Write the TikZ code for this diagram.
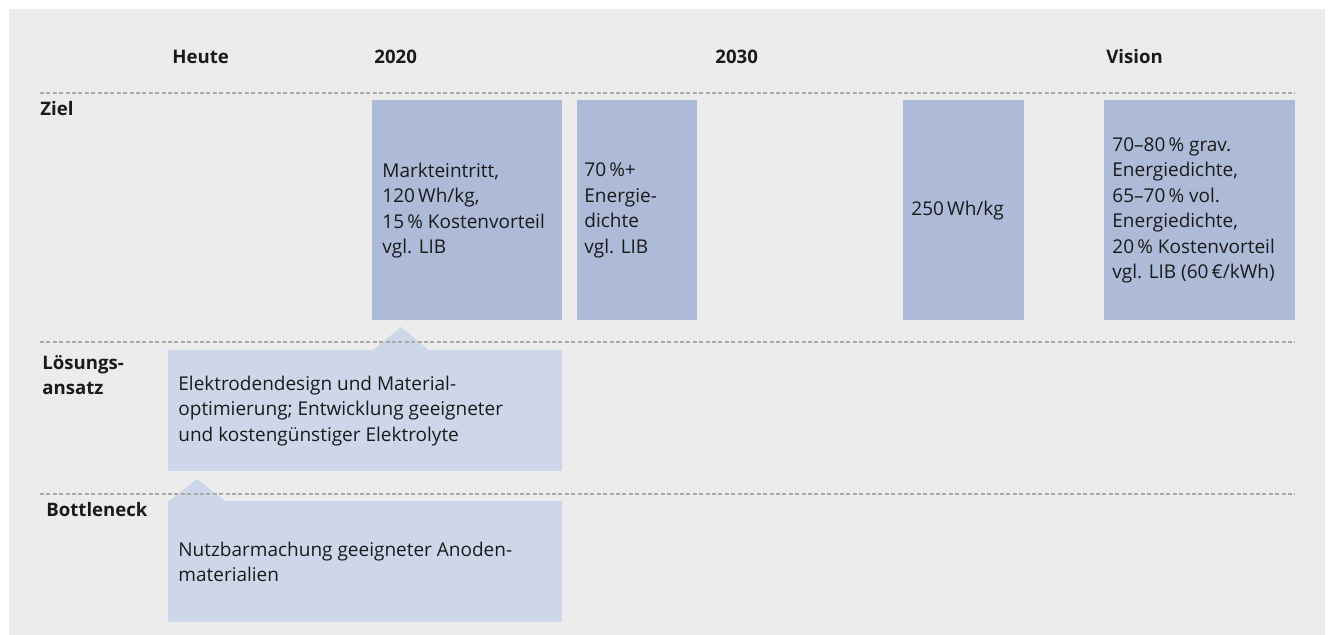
\documentclass[tikz,border=0pt]{standalone}
\usepackage{fontspec}
\setmainfont{Open Sans}
\usepackage{tikz}
\usetikzlibrary{positioning,calc}
\definecolor{bggray}{HTML}{ECECEC}
\definecolor{zielblue}{HTML}{ADBAD8}
\definecolor{paleblue}{HTML}{CED7EA}
\definecolor{rulegray}{HTML}{A9A9A9}
\definecolor{inkblack}{HTML}{1A1A1A}

\begin{document}
\begin{tikzpicture}[x=0.5pt,y=-0.5pt,
  every node/.style={inner sep=0pt,text=inkblack},
  bodytext/.style={font=\fontsize{9.5}{12.7}\selectfont,align=left},
  headtext/.style={font=\fontsize{9.3}{12.5}\selectfont\bfseries,align=left},
  zielbox/.style={fill=zielblue,anchor=north west,minimum height=110pt},
  hintbox/.style={fill=paleblue,anchor=north west,minimum width=197pt,minimum height=60.5pt},
  rowrule/.style={draw=rulegray,line width=0.75pt,dash pattern=on 2pt off 1.2pt}]
  % background
  \fill[bggray] (9,9) rectangle (1325,635);
  \useasboundingbox (0,0) rectangle (1329,635);
  % time axis
  \node[headtext,anchor=base west] (heute) at (172,64) {Heute};
  \node[headtext,anchor=base west] (y2020) at (374,64) {2020};
  \node[headtext,anchor=base west] (y2030) at (715,64) {2030};
  \node[headtext,anchor=base west] (vision) at (1106,64) {Vision};
  % row labels
  \node[headtext,anchor=base west] (ziel) at (40,116) {Ziel};
  \node[headtext,anchor=west] (loesung) at (42,375) {Lösungs-\\ansatz};
  \node[headtext,anchor=base west] (bottle) at (46,517) {Bottleneck};
  % goals
  \node[zielbox,minimum width=95pt] (zMarkt) at (372,100) {};
  \node[zielbox,minimum width=60pt] (zDichte) at (577,100) {};
  \node[zielbox,minimum width=60.5pt] (zWh) at (903,100) {};
  \node[zielbox,minimum width=95.5pt] (zVision) at (1104,100) {};
  \node[bodytext,right=5pt of zMarkt.west] (tMarkt) {Markteintritt,\\120\,Wh/kg,\\15\,\% Kostenvorteil\\vgl. LIB};
  \node[bodytext,right=3.5pt of zDichte.west] (tDichte) {70\,\%+\\Energie-\\dichte\\vgl. LIB};
  \node[bodytext,right=4pt of zWh.west] (tWh) {250\,Wh/kg};
  \node[bodytext,right=4pt of zVision.west] (tVision) {70--80\,\% grav.\\Energiedichte,\\65--70\,\% vol.\\Energiedichte,\\20\,\% Kostenvorteil\\vgl. LIB (60\,€/kWh)};
  % solution and bottleneck
  \node[hintbox] (loes) at (168,350) {};
  \fill[paleblue] ($(loes.north west)+(204,1)$) -- ++(29,-24) -- ++(29,24) -- cycle;
  \node[bodytext,right=5pt of loes.west] (tLoes) {Elektrodendesign und Material-\\optimierung; Entwicklung geeigneter\\und kostengünstiger Elektrolyte};
  \node[hintbox] (bott) at (168,501) {};
  \fill[paleblue] ($(bott.north west)+(0,1)$) -- ++(29,-23) -- ++(29,23) -- cycle;
  \node[bodytext,right=5pt of bott.west] (tBott) {Nutzbarmachung geeigneter Anoden-\\materialien};
  % row separators
  \foreach \ry in {93,342,494}
    \draw[rowrule] (40,\ry) -- (1295,\ry);
\end{tikzpicture}
\end{document}
